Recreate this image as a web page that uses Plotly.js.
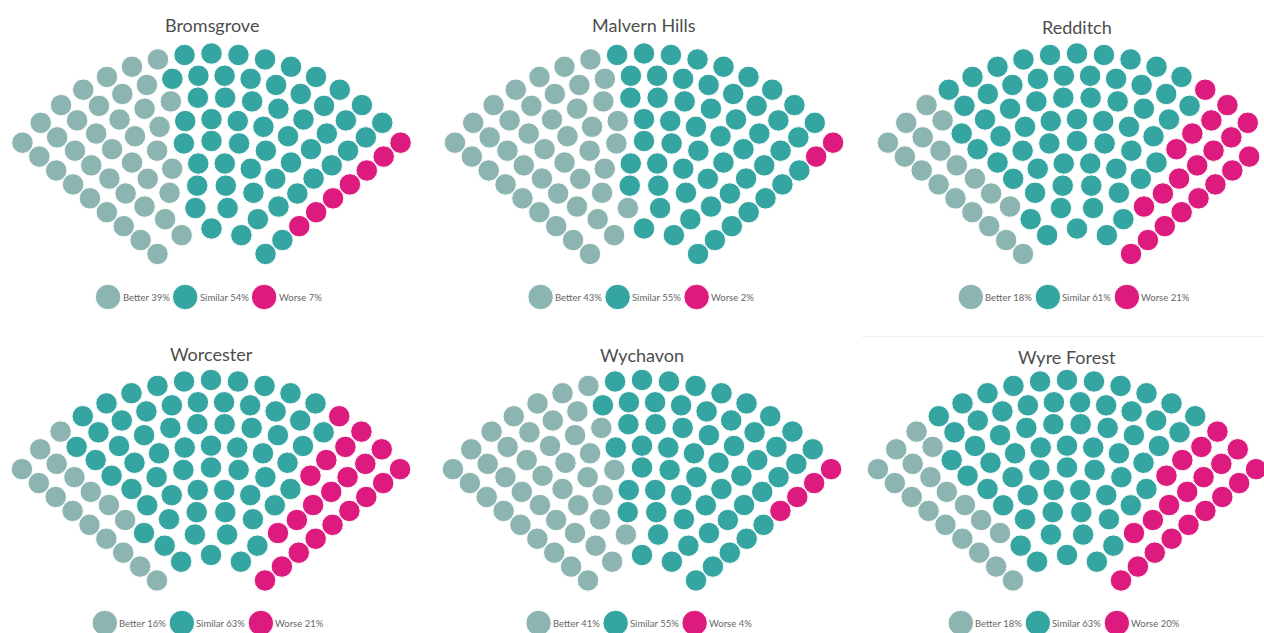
<!DOCTYPE html>
<html>
<head>
<meta charset="utf-8">
<script src="https://cdn.plot.ly/plotly-3.0.1.min.js"></script>
<style>
html,body{margin:0;padding:0;background:#ffffff;}
#chart{width:1264px;height:633px;}
</style>
</head>
<body>
<div id="chart"></div>
<script>
// ---------- data ----------
const districts   = ['Bromsgrove', 'Malvern Hills', 'Redditch', 'Worcester', 'Wychavon', 'Wyre Forest'];
const categories  = ['Better', 'Similar', 'Worse'];
// percentages shown in the legends
const betterPct   = [39, 43, 18, 16, 41, 18];
const similarPct  = [54, 55, 61, 63, 55, 63];
const worsePct    = [7, 2, 21, 21, 4, 20];
// number of dots of each colour (100 dots per district)
const betterDots  = [39, 43, 18, 16, 41, 18];
const similarDots = [54, 55, 61, 63, 55, 62];
const worseDots   = [7, 2, 21, 21, 4, 20];

// ---------- styling / layout constants ----------
const COLORS = ['#8cb5b2', '#35a5a2', '#dd1b7f'];
const W = 1264, H = 633;
const N_ROWS = 9, R_IN = 70, R_OUT = 245, EDGE = 39.5 * Math.PI / 180;
const DOT = 21.5, LEG_DOT = 25.5;
const FONT = 'Lato, "Open Sans", sans-serif';
// fan centre in page pixels, panel box
const panelGeo = [
  {cx: 211.5, cy: 298.5, x0: 0,   x1: 428,  y0: 0,   y1: 318, titleY: 25,  legY: 297},
  {cx: 644,   cy: 298.5, x0: 428, x1: 858,  y0: 0,   y1: 318, titleY: 25,  legY: 297},
  {cx: 1077,  cy: 298.5, x0: 858, x1: 1264, y0: 0,   y1: 318, titleY: 27,  legY: 297},
  {cx: 211,   cy: 625,   x0: 0,   x1: 428,  y0: 318, y1: 633, titleY: 354, legY: 623},
  {cx: 642,   cy: 625,   x0: 428, x1: 858,  y0: 318, y1: 633, titleY: 355, legY: 623},
  {cx: 1067,  cy: 625,   x0: 858, x1: 1264, y0: 318, y1: 633, titleY: 357, legY: 623}
];

// ---------- fan (parliament-style) layout ----------
function fanSeats(total) {
  const radii = [];
  for (let k = 0; k < N_ROWS; k++) radii.push(R_IN + k * (R_OUT - R_IN) / (N_ROWS - 1));
  const sumR = radii.reduce((a, b) => a + b, 0);
  const raw = radii.map(r => total * r / sumR);
  const counts = raw.map(Math.floor);
  let left = total - counts.reduce((a, b) => a + b, 0);
  const order = raw.map((v, i) => [v - Math.floor(v), i]).sort((a, b) => b[0] - a[0]);
  for (let j = 0; j < left; j++) counts[order[j][1]] += 1;
  const seats = [];
  const span = Math.PI - 2 * EDGE;
  counts.forEach((n, k) => {
    for (let i = 0; i < n; i++) {
      const t = n === 1 ? 0.5 : i / (n - 1);
      const a = Math.PI - EDGE - t * span;
      seats.push({t: t, k: k, x: radii[k] * Math.cos(a), y: radii[k] * Math.sin(a)});
    }
  });
  seats.sort((p, q) => (p.t - q.t) || (p.k - q.k));
  return seats;
}

// ---------- text measuring ----------
const ctx = document.createElement('canvas').getContext('2d');
function textW(s, size) { ctx.font = size + 'px Lato'; return ctx.measureText(s).width; }

const traces = [];
const annotations = [];
const layout = {
  width: W, height: H, autosize: false,
  margin: {l: 0, r: 0, t: 0, b: 0, pad: 0},
  paper_bgcolor: '#ffffff', plot_bgcolor: '#ffffff',
  showlegend: false,
  font: {family: FONT},
  annotations: annotations,
  shapes: [{type: 'line', xref: 'paper', yref: 'paper',
            x0: 862 / W, x1: 1, y0: 1 - 336.5 / H, y1: 1 - 336.5 / H,
            line: {color: '#efefef', width: 1}}]
};

districts.forEach((name, p) => {
  const g = panelGeo[p];
  const xa = 'x' + (p === 0 ? '' : p + 1), ya = 'y' + (p === 0 ? '' : p + 1);
  const xKey = 'xaxis' + (p === 0 ? '' : p + 1), yKey = 'yaxis' + (p === 0 ? '' : p + 1);
  const axBase = {showgrid: false, zeroline: false, showticklabels: false, showline: false,
                  ticks: '', fixedrange: true};
  layout[xKey] = Object.assign({}, axBase, {
    domain: [g.x0 / W, g.x1 / W], range: [g.x0 - g.cx, g.x1 - g.cx], anchor: ya});
  layout[yKey] = Object.assign({}, axBase, {
    domain: [1 - g.y1 / H, 1 - g.y0 / H], range: [g.cy - g.y1, g.cy - g.y0], anchor: xa});

  const counts = [betterDots[p], similarDots[p], worseDots[p]];
  const pcts = [betterPct[p], similarPct[p], worsePct[p]];
  const total = counts.reduce((a, b) => a + b, 0);
  const seats = fanSeats(total);
  let idx = 0;
  counts.forEach((c, ci) => {
    const part = seats.slice(idx, idx + c); idx += c;
    traces.push({
      type: 'scatter', mode: 'markers', xaxis: xa, yaxis: ya,
      name: categories[ci], cliponaxis: false, hoverinfo: 'skip',
      x: part.map(s => s.x), y: part.map(s => s.y),
      marker: {size: DOT, color: COLORS[ci], line: {color: '#ffffff', width: 1}}
    });
  });

  // title
  annotations.push({xref: xa, yref: ya, x: 0, y: g.cy - g.titleY, text: name,
    showarrow: false, xanchor: 'center', yanchor: 'middle', borderpad: 0,
    font: {family: FONT, size: 18, color: '#4d4d4d'}});

  // legend (custom, centred under the fan)
  const LEG_FS = 9.5;
  const labels = categories.map((c, i) => c + ' ' + pcts[i] + '%');
  const widths = labels.map(s => textW(s, LEG_FS));
  const totalW = 13 + 15 * 5 + widths.reduce((a, b) => a + b, 0);
  let x = -3 - totalW / 2 + 13;
  const lx = [], ly = [];
  labels.forEach((s, i) => {
    lx.push(x); ly.push(g.cy - g.legY);
    annotations.push({xref: xa, yref: ya, x: x + 14.5, y: g.cy - g.legY, text: s,
      showarrow: false, xanchor: 'left', yanchor: 'middle', borderpad: 0, borderwidth: 0,
      font: {family: FONT, size: LEG_FS, color: '#666666'}});
    x = x + 15 + widths[i] + 15;
  });
  traces.push({
    type: 'scatter', mode: 'markers', xaxis: xa, yaxis: ya, cliponaxis: false,
    hoverinfo: 'skip', x: lx, y: ly,
    marker: {size: LEG_DOT, color: COLORS, line: {color: '#ffffff', width: 1}}
  });
});

Plotly.newPlot('chart', traces, layout, {displayModeBar: false, staticPlot: true});
</script>
</body>
</html>
